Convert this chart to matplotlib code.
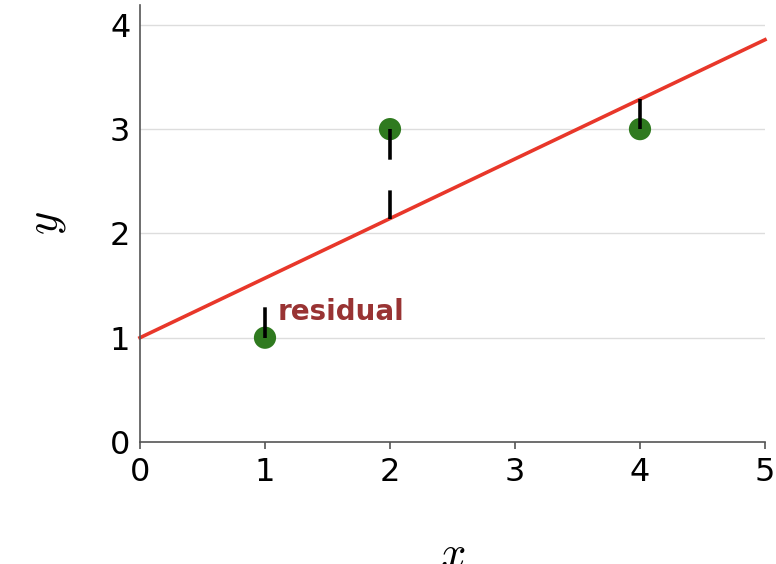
import matplotlib
matplotlib.use("Agg")
import matplotlib.pyplot as plt
import numpy as np

# Data
x_pts = [1, 2, 4]
y_pts = [1, 3, 3]
line_x = [0, 5]
intercept = 1.0
slope = 4 / 7
x_ticks = [0, 1, 2, 3, 4, 5]
y_ticks = [0, 1, 2, 3, 4]

plt.rcParams['mathtext.fontset'] = 'cm'
plt.rcParams['font.family'] = ['DejaVu Sans']

fig = plt.figure(figsize=(7.76, 5.64), dpi=100)
ax = fig.add_axes([0.1804, 0.2163, 0.8054, 0.7748])

ax.set_xlim(0, 5)
ax.set_ylim(0, 4.19)

for yt in y_ticks[1:]:
    ax.axhline(yt, color='#dddddd', lw=1.0, zorder=0)

lx = np.array(line_x, dtype=float)
ax.plot(lx, intercept + slope * lx, color='#e8372a', lw=2.6, zorder=2, clip_on=False)

ax.scatter(x_pts, y_pts, s=16**2, color='#2f7a1f', zorder=3, edgecolors='none')

for xp, yp in zip(x_pts, y_pts):
    yl = intercept + slope * xp
    ln, = ax.plot([xp, xp], [yp, yl], color='black', lw=2.6, zorder=4)
    ln.set_dashes((8.5, 8.5))

ax.text(1.10, 1.17, 'residual', color='#993333', fontsize=20, fontweight='bold',
        ha='left', va='baseline')

for s in ['top', 'right']:
    ax.spines[s].set_visible(False)
for s in ['left', 'bottom']:
    ax.spines[s].set_color('#555555')
    ax.spines[s].set_linewidth(1.2)

ax.set_xticks(x_ticks)
ax.set_yticks(y_ticks)
ax.set_xticklabels([str(v) for v in x_ticks])
ax.set_yticklabels([str(v) for v in y_ticks])
ax.tick_params(axis='x', length=5, width=1.2, color='#555555', labelsize=23, pad=6)
ax.tick_params(axis='y', length=0, labelsize=23, pad=7)

ax.set_xlabel(r'$x$', fontsize=32, labelpad=32)
ax.set_ylabel(r'$y$', fontsize=32, labelpad=30)

fig.savefig('out.png', dpi=100)
